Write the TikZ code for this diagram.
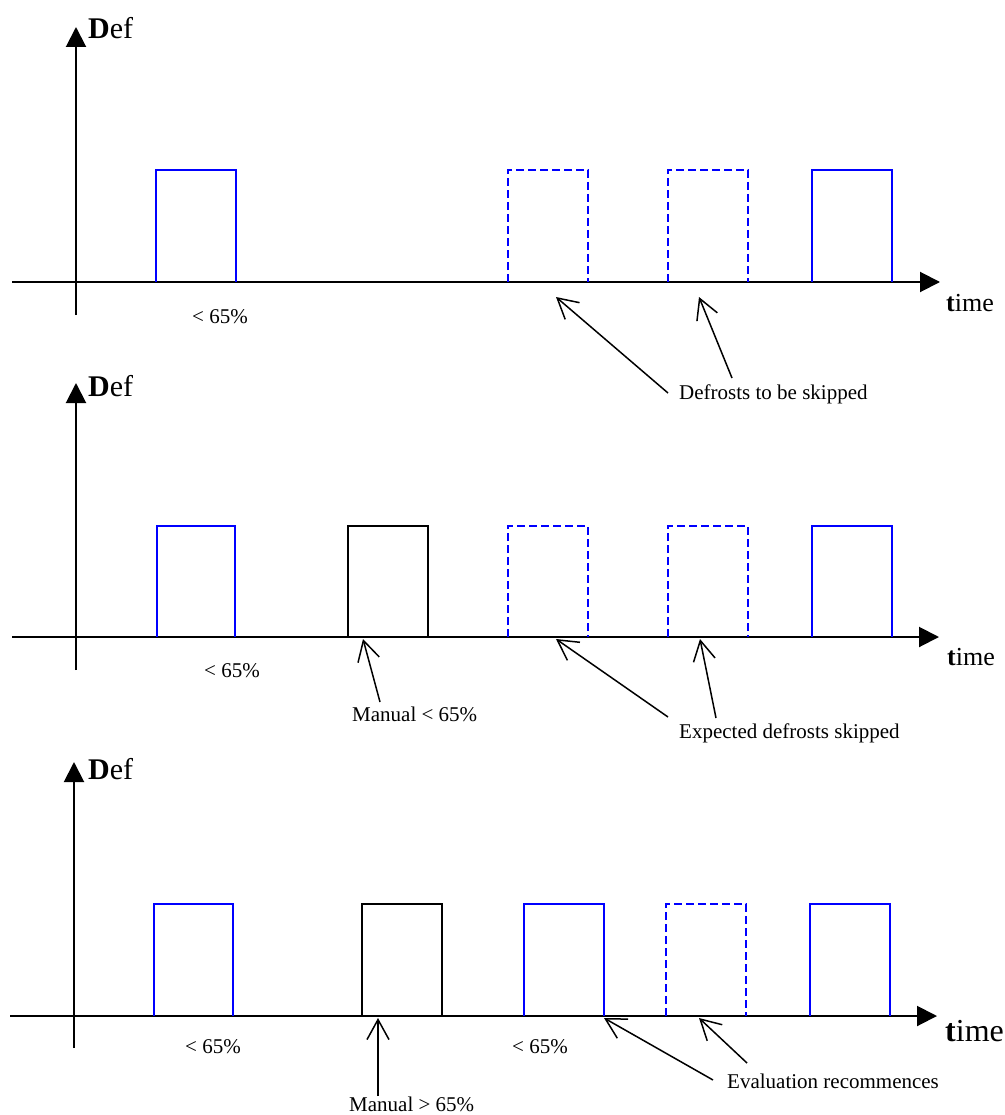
\documentclass[tikz,border=0pt]{standalone}
\usepackage{fontspec}
\setmainfont{Liberation Serif}
\usetikzlibrary{arrows.meta}
\tikzset{
  axisline/.style={line width=2pt, black, -{Triangle[length=20pt,width=20pt]}},
  pulseblue/.style={line width=2pt, blue},
  pulseblack/.style={line width=2pt, black},
  pulsedash/.style={line width=2pt, blue, dash pattern=on 8pt off 4pt},
  pointer/.style={line width=1.5pt, black, -{Straight Barb[length=20pt,width=22pt,line width=1.5pt]}},
  lbl/.style={inner sep=0pt, anchor=base west, font=\fontsize{21}{25}\selectfont},
  deflbl/.style={inner sep=0pt, anchor=base west, font=\fontsize{30}{34}\selectfont},
  timelbl/.style={inner sep=0pt, anchor=base west, font=\fontsize{26}{30}\selectfont},
  timelblbig/.style={inner sep=0pt, anchor=base west, font=\fontsize{32}{36}\selectfont},
}
\begin{document}
\begin{tikzpicture}[x=1pt,y=-1pt]
\useasboundingbox (0,0) rectangle (1004,1115);
% ---------------- Panel 1 ----------------
\coordinate (y1b) at (76,315); \coordinate (y1t) at (76,27);
\coordinate (x1l) at (12,282); \coordinate (x1r) at (940,282);
\draw[axisline] (y1b) -- (y1t);
\draw[axisline] (x1l) -- (x1r);
\node[deflbl] (def1) at (88,39) {\textbf{D}ef};
\node[timelbl] (time1) at (946,311) {\textbf{t}ime};
\draw[pulseblue] (156,282) |- (236,170) -- (236,282);
\draw[pulsedash] (508,282) |- (588,170) -- (588,282);
\draw[pulsedash] (668,282) |- (748,170) -- (748,282);
\draw[pulseblue] (812,282) |- (892,170) -- (892,282);
\node[lbl] (p1a) at (192,323) {< 65\%};
\node[lbl] (skip1) at (679,399) {Defrosts to be skipped};
\coordinate (s1t1) at (668,393); \coordinate (s1h1) at (556,297);
\coordinate (s1t2) at (732,378); \coordinate (s1h2) at (699,297);
\draw[pointer] (s1t1) -- (s1h1);
\draw[pointer] (s1t2) -- (s1h2);
% ---------------- Panel 2 ----------------
\coordinate (y2b) at (76,670); \coordinate (y2t) at (76,383);
\coordinate (x2l) at (12,637); \coordinate (x2r) at (939,637);
\draw[axisline] (y2b) -- (y2t);
\draw[axisline] (x2l) -- (x2r);
\node[deflbl] (def2) at (88,396) {\textbf{D}ef};
\node[timelbl] (time2) at (947,665) {\textbf{t}ime};
\draw[pulseblue] (157,637) |- (235,526) -- (235,637);
\draw[pulseblack] (348,637) |- (428,526) -- (428,637);
\draw[pulsedash] (508,637) |- (588,526) -- (588,637);
\draw[pulsedash] (668,637) |- (748,526) -- (748,637);
\draw[pulseblue] (812,637) |- (892,526) -- (892,637);
\node[lbl] (p2a) at (204,677) {< 65\%};
\node[lbl] (man2) at (352,721) {Manual < 65\%};
\node[lbl] (exp2) at (679,738) {Expected defrosts skipped};
\coordinate (m2t) at (380,702); \coordinate (m2h) at (363,639);
\coordinate (e2t1) at (668,717); \coordinate (e2h1) at (556,639);
\coordinate (e2t2) at (716,718); \coordinate (e2h2) at (700,639);
\draw[pointer] (m2t) -- (m2h);
\draw[pointer] (e2t1) -- (e2h1);
\draw[pointer] (e2t2) -- (e2h2);
% ---------------- Panel 3 ----------------
\coordinate (y3b) at (74,1048); \coordinate (y3t) at (74,762);
\coordinate (x3l) at (10,1016); \coordinate (x3r) at (937,1016);
\draw[axisline] (y3b) -- (y3t);
\draw[axisline] (x3l) -- (x3r);
\node[deflbl] (def3) at (88,779) {\textbf{D}ef};
\node[timelblbig] (time3) at (945,1041) {\textbf{t}ime};
\draw[pulseblue] (154,1016) |- (233,904) -- (233,1016);
\draw[pulseblack] (362,1016) |- (442,904) -- (442,1016);
\draw[pulseblue] (524,1016) |- (604,904) -- (604,1016);
\draw[pulsedash] (666,1016) |- (746,904) -- (746,1016);
\draw[pulseblue] (810,1016) |- (890,904) -- (890,1016);
\node[lbl] (p3a) at (185,1053) {< 65\%};
\node[lbl] (p3b) at (512,1053) {< 65\%};
\node[lbl] (eval3) at (727,1088) {Evaluation recommences};
\node[lbl] (man3) at (349,1111) {Manual > 65\%};
\coordinate (m3t) at (378,1096); \coordinate (m3h) at (378,1018);
\coordinate (r3t1) at (713,1080); \coordinate (r3h1) at (604,1018);
\coordinate (r3t2) at (747,1063); \coordinate (r3h2) at (699,1018);
\draw[pointer] (m3t) -- (m3h);
\draw[pointer] (r3t1) -- (r3h1);
\draw[pointer] (r3t2) -- (r3h2);
\end{tikzpicture}
\end{document}
